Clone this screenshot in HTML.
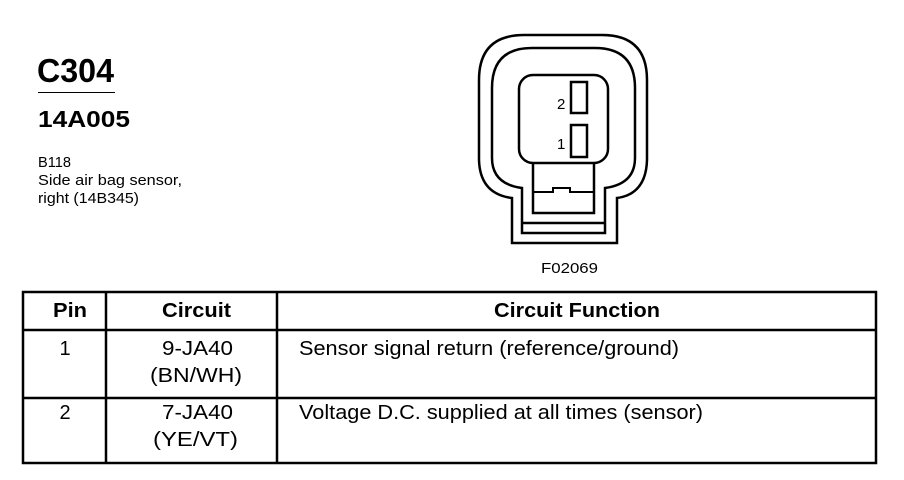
<!DOCTYPE html>
<html><head><meta charset="utf-8"><style>
body{margin:0;width:904px;height:480px;background:#fff;position:relative;font-family:"Liberation Sans",Arial,sans-serif;color:#000;overflow:hidden}
</style></head><body>
<svg style="position:absolute;left:0;top:0" width="904" height="480" font-family="Liberation Sans,Arial,sans-serif">
<text x="37" y="82" font-size="33" font-weight="bold" textLength="77" lengthAdjust="spacingAndGlyphs">C304</text>
<line x1="38" y1="92.5" x2="115" y2="92.5" stroke="#000" stroke-width="1"/>
<text x="38" y="127" font-size="23" font-weight="bold" textLength="92" lengthAdjust="spacingAndGlyphs">14A005</text>
<text x="38" y="167" font-size="15" textLength="33" lengthAdjust="spacingAndGlyphs">B118</text>
<text x="38" y="185" font-size="15" textLength="144" lengthAdjust="spacingAndGlyphs">Side air bag sensor,</text>
<text x="38" y="203" font-size="15" textLength="101" lengthAdjust="spacingAndGlyphs">right (14B345)</text>
<g fill="none" stroke="#000" stroke-width="2.5">
<path d="M512,243 L512,198 Q480,194 479,160 L479,80 Q479,35 524,35 L602,35 Q647,35 647,80 L647,160 Q646,194 617,198 L617,243 Z"/>
<path d="M522,233 L522,188 Q492,184 492,158 L492,88 Q492,48 532,48 L595,48 Q635,48 635,88 L635,158 Q635,184 605,188 L605,233 Z"/>
<line x1="522" y1="223" x2="605" y2="223"/>
<rect x="519" y="75" width="89" height="88" rx="14"/>
<path d="M533,163 L533,213 L594,213 L594,163"/>
<path d="M533,192 L553,192 L553,188 L570,188 L570,192 L594,192" stroke-width="2"/>
<rect x="571" y="82" width="16" height="31"/>
<rect x="571" y="125" width="16" height="32"/>
</g>
<text x="557" y="109" font-size="15">2</text>
<text x="557" y="149" font-size="15">1</text>
<text x="541" y="273" font-size="15" textLength="57" lengthAdjust="spacingAndGlyphs">F02069</text>
<g stroke="#000" stroke-width="2.5" fill="none">
<rect x="23" y="292" width="853" height="171"/>
<line x1="23" y1="330" x2="876" y2="330"/>
<line x1="23" y1="398" x2="876" y2="398"/>
<line x1="106" y1="292" x2="106" y2="463"/>
<line x1="277" y1="292" x2="277" y2="463"/>
</g>
<g font-size="20">
<text x="53" y="317" font-weight="bold" textLength="34" lengthAdjust="spacingAndGlyphs">Pin</text>
<text x="162" y="317" font-weight="bold" textLength="69" lengthAdjust="spacingAndGlyphs">Circuit</text>
<text x="494" y="317" font-weight="bold" textLength="166" lengthAdjust="spacingAndGlyphs">Circuit Function</text>
<text x="65" y="355" text-anchor="middle">1</text>
<text x="162" y="355" textLength="71" lengthAdjust="spacingAndGlyphs">9-JA40</text>
<text x="150" y="382" textLength="92" lengthAdjust="spacingAndGlyphs">(BN/WH)</text>
<text x="299" y="355" textLength="380" lengthAdjust="spacingAndGlyphs">Sensor signal return (reference/ground)</text>
<text x="65" y="419" text-anchor="middle">2</text>
<text x="162" y="419" textLength="71" lengthAdjust="spacingAndGlyphs">7-JA40</text>
<text x="153" y="446" textLength="85" lengthAdjust="spacingAndGlyphs">(YE/VT)</text>
<text x="299" y="419" textLength="404" lengthAdjust="spacingAndGlyphs">Voltage D.C. supplied at all times (sensor)</text>
</g>
</svg>
</body></html>
